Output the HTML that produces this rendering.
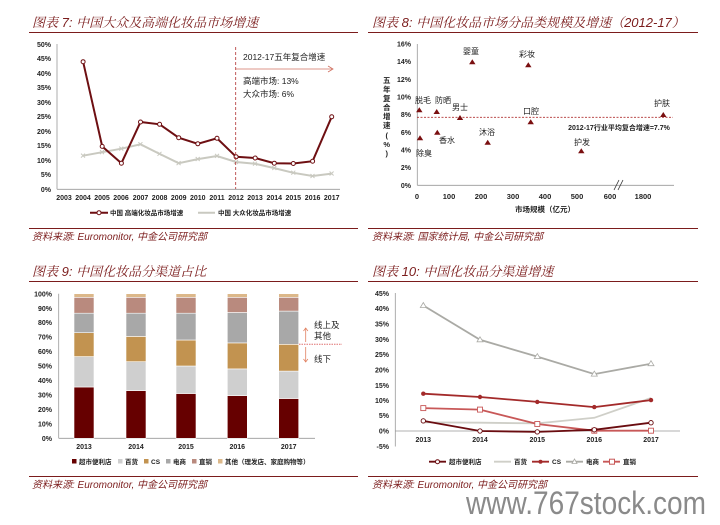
<!DOCTYPE html>
<html><head><meta charset="utf-8"><style>
html,body{margin:0;padding:0;background:#fff;}
svg{display:block;font-family:"Liberation Sans","Noto Sans CJK SC",sans-serif;}
.t{font-size:13px;font-style:italic;fill:#7b1c1c;font-family:"Liberation Sans","Noto Serif CJK SC",serif;}
.s{font-size:10px;font-style:italic;fill:#7b1c1c;}
.tk{font-size:7px;font-weight:bold;fill:#222;}
.tk8{font-size:7.5px;font-weight:bold;fill:#222;}
.lg{font-size:6.5px;fill:#222;font-weight:bold;}
.an{font-size:8.5px;fill:#222;}
</style></head><body>
<svg width="720" height="525" viewBox="0 0 720 525" xmlns="http://www.w3.org/2000/svg">
<!-- ===== Chart 7 ===== -->
<text class="t" x="32" y="27">图表 7:  中国大众及高端化妆品市场增速</text>
<line x1="29" y1="32.5" x2="358" y2="32.5" stroke="#7b1c1c" stroke-width="1"/>
<g class="tk" text-anchor="end">
<text x="51" y="192">0%</text><text x="51" y="177">5%</text><text x="51" y="163">10%</text><text x="51" y="148">15%</text><text x="51" y="134">20%</text><text x="51" y="119">25%</text><text x="51" y="105">30%</text><text x="51" y="90">35%</text><text x="51" y="76">40%</text><text x="51" y="61">45%</text><text x="51" y="47">50%</text>
</g>
<line x1="57" y1="44" x2="57" y2="189.3" stroke="#999" stroke-width="0.8"/>
<line x1="57" y1="189.3" x2="340" y2="189.3" stroke="#999" stroke-width="0.8"/>
<g class="tk" text-anchor="middle">
<text x="64" y="200">2003</text><text x="83" y="200">2004</text><text x="102" y="200">2005</text><text x="121" y="200">2006</text><text x="140.5" y="200">2007</text><text x="159.6" y="200">2008</text><text x="178.7" y="200">2009</text><text x="197.8" y="200">2010</text><text x="217" y="200">2011</text><text x="236" y="200">2012</text><text x="255" y="200">2013</text><text x="274.3" y="200">2014</text><text x="293.3" y="200">2015</text><text x="312.6" y="200">2016</text><text x="331.7" y="200">2017</text>
</g>
<polyline fill="none" stroke="#c9c9c0" stroke-width="2" points="83.1,155.7 102.2,152.2 121.4,148.7 140.5,144.3 159.6,153.9 178.7,163.2 197.8,159.1 217,156 236.1,162 255.2,163.8 274.3,168.1 293.3,172.8 312.6,176 331.7,173.6"/>
<g stroke="#c9c9c0" stroke-width="1">
<path d="M81,153.6l4,4M85,153.6l-4,4M100,150.1l4,4M104,150.1l-4,4M119.3,146.6l4,4M123.3,146.6l-4,4M138.4,142.2l4,4M142.4,142.2l-4,4M157.5,151.8l4,4M161.5,151.8l-4,4M176.6,161.1l4,4M180.6,161.1l-4,4M195.7,157l4,4M199.7,157l-4,4M215,153.9l4,4M219,153.9l-4,4M234,160l4,4M238,160l-4,4M253,161.7l4,4M257,161.7l-4,4M272.3,166l4,4M276.3,166l-4,4M291.3,170.7l4,4M295.3,170.7l-4,4M310.5,174l4,4M314.5,174l-4,4M329.6,171.5l4,4M333.6,171.5l-4,4"/>
</g>
<polyline fill="none" stroke="#6e0f12" stroke-width="2" points="83.1,61.7 102.2,146.4 121.4,163.2 140.5,122 159.6,124.3 178.7,137.7 197.8,143.8 217,138.3 236.1,156.8 255.2,158 274.3,163.2 293.3,163.5 312.6,161.2 331.7,116.8"/>
<g fill="#fff" stroke="#6e0f12" stroke-width="1">
<circle cx="83.1" cy="61.7" r="2"/><circle cx="102.2" cy="146.4" r="2"/><circle cx="121.4" cy="163.2" r="2"/><circle cx="140.5" cy="122" r="2"/><circle cx="159.6" cy="124.3" r="2"/><circle cx="178.7" cy="137.7" r="2"/><circle cx="197.8" cy="143.8" r="2"/><circle cx="217" cy="138.3" r="2"/><circle cx="236.1" cy="156.8" r="2"/><circle cx="255.2" cy="158" r="2"/><circle cx="274.3" cy="163.2" r="2"/><circle cx="293.3" cy="163.5" r="2"/><circle cx="312.6" cy="161.2" r="2"/><circle cx="331.7" cy="116.8" r="2"/>
</g>
<line x1="235.7" y1="47" x2="235.7" y2="189" stroke="#b03030" stroke-width="0.8" stroke-dasharray="3,2"/>
<line x1="236" y1="69" x2="332" y2="69" stroke="#d07060" stroke-width="0.8"/>
<path d="M328,66l5,3l-5,3" fill="none" stroke="#d07060" stroke-width="0.8"/>
<text class="an" x="243" y="60">2012-17五年复合增速</text>
<text class="an" x="243" y="84">高端市场:  13%</text>
<text class="an" x="243" y="97">大众市场:  6%</text>
<line x1="90" y1="212.7" x2="108" y2="212.7" stroke="#6e0f12" stroke-width="2"/>
<circle cx="99" cy="212.7" r="2" fill="#fff" stroke="#6e0f12"/>
<text class="lg" x="110" y="215">中国 高端化妆品市场增速</text>
<line x1="198" y1="212.7" x2="215" y2="212.7" stroke="#c9c9c0" stroke-width="2"/>
<text class="lg" x="218" y="215">中国 大众化妆品市场增速</text>
<line x1="29" y1="228.5" x2="358" y2="228.5" stroke="#7b1c1c" stroke-width="1"/>
<text class="s" x="32" y="240">资料来源:  Euromonitor,  中金公司研究部</text>

<!-- ===== Chart 8 ===== -->
<text class="t" x="372" y="27">图表 8:  中国化妆品市场分品类规模及增速（2012-17）</text>
<line x1="368" y1="32.5" x2="698" y2="32.5" stroke="#7b1c1c" stroke-width="1"/>
<g class="tk" text-anchor="end">
<text x="411" y="188">0%</text><text x="411" y="170">2%</text><text x="411" y="152.5">4%</text><text x="411" y="135">6%</text><text x="411" y="117">8%</text><text x="411" y="99.5">10%</text><text x="411" y="82">12%</text><text x="411" y="64">14%</text><text x="411" y="46.5">16%</text>
</g>
<line x1="417.3" y1="44" x2="417.3" y2="185.3" stroke="#999" stroke-width="0.8"/>
<line x1="417.3" y1="185.3" x2="674" y2="185.3" stroke="#999" stroke-width="0.8"/>
<path d="M614,190l5,-10M618,190l5,-10" stroke="#333" stroke-width="0.8"/>
<g class="tk8" text-anchor="middle">
<text x="417" y="199">0</text><text x="449" y="199">100</text><text x="481" y="199">200</text><text x="513" y="199">300</text><text x="545" y="199">400</text><text x="577" y="199">500</text><text x="610" y="199">600</text><text x="643" y="199">1800</text>
</g>
<text class="lg" x="545" y="212" text-anchor="middle" style="font-size:7.5px">市场规模（亿元）</text>
<g class="lg" text-anchor="middle" style="font-size:7.5px">
<text x="386.7" y="83">五</text><text x="386.7" y="92">年</text><text x="386.7" y="101">复</text><text x="386.7" y="110">合</text><text x="386.7" y="119">增</text><text x="386.7" y="128">速</text><text x="386.7" y="138">(</text><text x="386.7" y="147">%</text><text x="386.7" y="156">)</text>
</g>
<line x1="417" y1="117.3" x2="673" y2="117.3" stroke="#b03030" stroke-width="0.8" stroke-dasharray="2,1.5"/>
<g fill="#7a0f10">
<path d="M419.3,107.3l3.2,5h-6.4z"/><path d="M436.7,109l3.2,5h-6.4z"/><path d="M460,115l3.2,5h-6.4z"/><path d="M472.3,59.3l3.2,5h-6.4z"/><path d="M528.3,62.3l3.2,5h-6.4z"/><path d="M530.7,119.3l3.2,5h-6.4z"/><path d="M663.3,112l3.2,5h-6.4z"/><path d="M437.3,129.7l3.2,5h-6.4z"/><path d="M420,135.3l3.2,5h-6.4z"/><path d="M487.7,139.7l3.2,5h-6.4z"/><path d="M581.3,148.3l3.2,5h-6.4z"/>
</g>
<g class="an" text-anchor="middle" style="font-size:8px">
<text x="471" y="54">婴童</text><text x="527" y="57">彩妆</text><text x="423" y="103">脱毛</text><text x="443" y="103">防晒</text><text x="460" y="110">男士</text><text x="531" y="114">口腔</text><text x="662" y="106">护肤</text><text x="447" y="143">香水</text><text x="424" y="156">除臭</text><text x="487" y="135">沐浴</text><text x="582" y="145">护发</text>
</g>
<text class="lg" x="619" y="130" text-anchor="middle" style="font-size:7px">2012-17行业平均复合增速=7.7%</text>
<line x1="368" y1="228.5" x2="698" y2="228.5" stroke="#7b1c1c" stroke-width="1"/>
<text class="s" x="372" y="240">资料来源:  国家统计局,  中金公司研究部</text>

<!-- ===== Chart 9 ===== -->
<text class="t" x="32" y="276">图表 9:  中国化妆品分渠道占比</text>
<line x1="29" y1="281.5" x2="358" y2="281.5" stroke="#7b1c1c" stroke-width="1"/>
<g class="tk" text-anchor="end">
<text x="52" y="441">0%</text><text x="52" y="426.5">10%</text><text x="52" y="412">20%</text><text x="52" y="397.5">30%</text><text x="52" y="383">40%</text><text x="52" y="368.5">50%</text><text x="52" y="354">60%</text><text x="52" y="339.5">70%</text><text x="52" y="325">80%</text><text x="52" y="311">90%</text><text x="52" y="296.5">100%</text>
</g>
<line x1="58.7" y1="293.7" x2="58.7" y2="438.3" stroke="#999" stroke-width="0.8"/>
<line x1="58.7" y1="438.3" x2="315" y2="438.3" stroke="#999" stroke-width="0.8"/>
<g stroke="#fff" stroke-width="0.6">
<rect x="74" y="387" width="20" height="51.3" fill="#660000"/><rect x="74" y="356.6" width="20" height="30.4" fill="#cfcfcf"/><rect x="74" y="332.7" width="20" height="23.9" fill="#c29350"/><rect x="74" y="313.2" width="20" height="19.5" fill="#a8a8a8"/><rect x="74" y="297.3" width="20" height="15.9" fill="#b98a7e"/><rect x="74" y="293.7" width="20" height="3.6" fill="#dcb88a"/>
<rect x="126" y="390.6" width="20" height="47.7" fill="#660000"/><rect x="126" y="361.7" width="20" height="28.9" fill="#cfcfcf"/><rect x="126" y="336.4" width="20" height="25.3" fill="#c29350"/><rect x="126" y="313.2" width="20" height="23.2" fill="#a8a8a8"/><rect x="126" y="297.3" width="20" height="15.9" fill="#b98a7e"/><rect x="126" y="293.7" width="20" height="3.6" fill="#dcb88a"/>
<rect x="176" y="393.5" width="20" height="44.8" fill="#660000"/><rect x="176" y="366" width="20" height="27.5" fill="#cfcfcf"/><rect x="176" y="340" width="20" height="26" fill="#c29350"/><rect x="176" y="313.2" width="20" height="26.8" fill="#a8a8a8"/><rect x="176" y="297.3" width="20" height="15.9" fill="#b98a7e"/><rect x="176" y="293.7" width="20" height="3.6" fill="#dcb88a"/>
<rect x="227.3" y="395.6" width="20" height="42.7" fill="#660000"/><rect x="227.3" y="368.9" width="20" height="26.7" fill="#cfcfcf"/><rect x="227.3" y="342.9" width="20" height="26" fill="#c29350"/><rect x="227.3" y="312.5" width="20" height="30.4" fill="#a8a8a8"/><rect x="227.3" y="297.3" width="20" height="15.2" fill="#b98a7e"/><rect x="227.3" y="293.7" width="20" height="3.6" fill="#dcb88a"/>
<rect x="278.7" y="398.5" width="20" height="39.8" fill="#660000"/><rect x="278.7" y="371.1" width="20" height="27.4" fill="#cfcfcf"/><rect x="278.7" y="344.3" width="20" height="26.8" fill="#c29350"/><rect x="278.7" y="311.1" width="20" height="33.2" fill="#a8a8a8"/><rect x="278.7" y="297.3" width="20" height="13.8" fill="#b98a7e"/><rect x="278.7" y="293.7" width="20" height="3.6" fill="#dcb88a"/>
</g>
<g class="tk" text-anchor="middle">
<text x="84" y="449">2013</text><text x="136" y="449">2014</text><text x="186" y="449">2015</text><text x="237.3" y="449">2016</text><text x="288.7" y="449">2017</text>
</g>
<line x1="299" y1="344.3" x2="342" y2="344.3" stroke="#e07070" stroke-width="1" stroke-dasharray="1.5,1"/>
<g stroke="#e08060" stroke-width="0.8" fill="none">
<line x1="305.7" y1="328" x2="305.7" y2="342"/><path d="M303.5,331l2.2,-3l2.2,3"/>
<line x1="305.7" y1="347" x2="305.7" y2="362"/><path d="M303.5,359l2.2,3l2.2,-3"/>
</g>
<text class="an" x="314" y="328">线上及</text><text class="an" x="314" y="339">其他</text><text class="an" x="314" y="362">线下</text>
<g class="lg">
<rect x="72" y="459" width="4.5" height="4.5" fill="#660000"/><text x="79" y="464">超市便利店</text>
<rect x="118" y="459" width="4.5" height="4.5" fill="#cfcfcf"/><text x="125" y="464">百货</text>
<rect x="144" y="459" width="4.5" height="4.5" fill="#c29350"/><text x="151" y="464">CS</text>
<rect x="166" y="459" width="4.5" height="4.5" fill="#a8a8a8"/><text x="173" y="464">电商</text>
<rect x="192" y="459" width="4.5" height="4.5" fill="#b98a7e"/><text x="199" y="464">直销</text>
<rect x="218" y="459" width="4.5" height="4.5" fill="#dcb88a"/><text x="225" y="464">其他（理发店、家庭购物等）</text>
</g>
<line x1="29" y1="476.5" x2="358" y2="476.5" stroke="#7b1c1c" stroke-width="1"/>
<text class="s" x="32" y="488">资料来源:  Euromonitor,  中金公司研究部</text>

<!-- ===== Chart 10 ===== -->
<text class="t" x="372" y="276">图表 10:  中国化妆品分渠道增速</text>
<line x1="368" y1="281.5" x2="698" y2="281.5" stroke="#7b1c1c" stroke-width="1"/>
<g class="tk" text-anchor="end">
<text x="389" y="296">45%</text><text x="389" y="311">40%</text><text x="389" y="326.5">35%</text><text x="389" y="342">30%</text><text x="389" y="357">25%</text><text x="389" y="372.5">20%</text><text x="389" y="388">15%</text><text x="389" y="403">10%</text><text x="389" y="418">5%</text><text x="389" y="433.5">0%</text><text x="389" y="449">-5%</text>
</g>
<line x1="395.3" y1="293" x2="395.3" y2="446.5" stroke="#999" stroke-width="0.8"/>
<line x1="395.3" y1="431" x2="680" y2="431" stroke="#999" stroke-width="0.8"/>
<g class="tk" text-anchor="middle">
<text x="423.3" y="442">2013</text><text x="480" y="442">2014</text><text x="537.3" y="442">2015</text><text x="594.3" y="442">2016</text><text x="651" y="442">2017</text>
</g>
<polyline fill="none" stroke="#aaaaa5" stroke-width="1.8" points="423.3,305.5 480,339.8 537.3,356.6 594.3,374.1 651,363.7"/>
<g fill="#fff" stroke="#aaaaa5" stroke-width="0.8">
<path d="M423.3,302.5l3,5h-6z"/><path d="M480,336.8l3,5h-6z"/><path d="M537.3,353.6l3,5h-6z"/><path d="M594.3,371.1l3,5h-6z"/><path d="M651,360.7l3,5h-6z"/>
</g>
<polyline fill="none" stroke="#cfcfc8" stroke-width="1.8" points="423.3,422.4 480,422.7 537.3,423.4 594.3,417.8 651,398"/>
<polyline fill="none" stroke="#a32a2a" stroke-width="1.8" points="423.3,393.7 480,397 537.3,401.9 594.3,407.1 651,400.1"/>
<g fill="#a32a2a"><circle cx="423.3" cy="393.7" r="2.2"/><circle cx="480" cy="397" r="2.2"/><circle cx="537.3" cy="401.9" r="2.2"/><circle cx="594.3" cy="407.1" r="2.2"/><circle cx="651" cy="400.1" r="2.2"/></g>
<polyline fill="none" stroke="#c85858" stroke-width="1.8" points="423.3,408.1 480,409.6 537.3,424 594.3,430.7 651,430.7"/>
<g fill="#fff" stroke="#c85858" stroke-width="0.9"><rect x="420.8" y="405.6" width="5" height="5"/><rect x="477.5" y="407.1" width="5" height="5"/><rect x="534.8" y="421.5" width="5" height="5"/><rect x="591.8" y="428.2" width="5" height="5"/><rect x="648.5" y="428.2" width="5" height="5"/></g>
<polyline fill="none" stroke="#6a0c10" stroke-width="1.8" points="423.3,420.9 480,431 537.3,431.9 594.3,429.8 651,422.7"/>
<g fill="#fff" stroke="#6a0c10" stroke-width="0.9"><circle cx="423.3" cy="420.9" r="2.2"/><circle cx="480" cy="431" r="2.2"/><circle cx="537.3" cy="431.9" r="2.2"/><circle cx="594.3" cy="429.8" r="2.2"/><circle cx="651" cy="422.7" r="2.2"/></g>
<g class="lg">
<line x1="429" y1="461.7" x2="446" y2="461.7" stroke="#6a0c10" stroke-width="1.8"/><circle cx="437.5" cy="461.7" r="2" fill="#fff" stroke="#6a0c10"/><text x="449" y="464">超市便利店</text>
<line x1="494" y1="461.7" x2="511" y2="461.7" stroke="#cfcfc8" stroke-width="1.8"/><text x="514" y="464">百货</text>
<line x1="532" y1="461.7" x2="549" y2="461.7" stroke="#a32a2a" stroke-width="1.8"/><circle cx="540.5" cy="461.7" r="2" fill="#a32a2a"/><text x="552" y="464">CS</text>
<line x1="566" y1="461.7" x2="583" y2="461.7" stroke="#aaaaa5" stroke-width="1.8"/><path d="M574.5,459l2.5,4.5h-5z" fill="#fff" stroke="#aaaaa5" stroke-width="0.8"/><text x="586" y="464">电商</text>
<line x1="603" y1="461.7" x2="620" y2="461.7" stroke="#c85858" stroke-width="1.8"/><rect x="609.5" y="459.2" width="5" height="5" fill="#fff" stroke="#c85858"/><text x="623" y="464">直销</text>
</g>
<line x1="368" y1="476.5" x2="698" y2="476.5" stroke="#7b1c1c" stroke-width="1"/>
<text class="s" x="372" y="488">资料来源:  Euromonitor,  中金公司研究部</text>
<text x="466" y="514" textLength="240" lengthAdjust="spacingAndGlyphs" style="font-size:32px;fill:#8a8a8a;font-family:'Liberation Sans',sans-serif">www.767stock.com</text>
</svg>
</body></html>
